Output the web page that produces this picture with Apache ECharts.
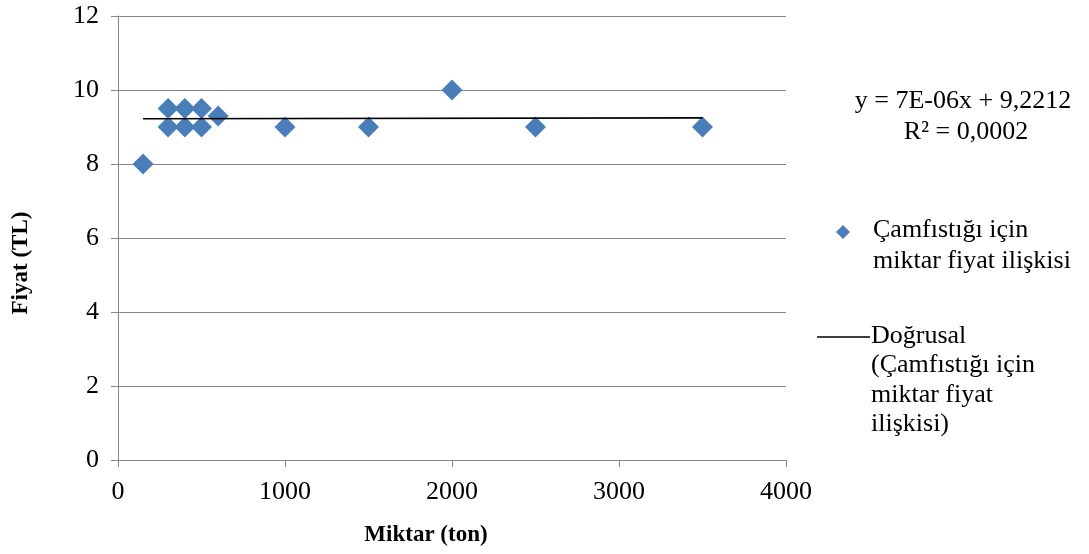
<!DOCTYPE html>
<html>
<head>
<meta charset="utf-8">
<script src="https://cdn.jsdelivr.net/npm/echarts@6/dist/echarts.min.js"></script>
<style>html,body{margin:0;padding:0;background:#fff}#c{width:1089px;height:554px}</style>
</head>
<body>
<div id="c"></div>
<script>
// Data
const miktar = [150, 300, 300, 400, 400, 500, 500, 600, 1000, 1500, 2000, 2500, 3500];
const fiyat  = [8, 9.5, 9, 9.5, 9, 9.5, 9, 9.3, 9, 9, 10, 9, 9];
const trendX = [150, 3500];
const trendY = [9.222, 9.246];
const xTicks = [0, 1000, 2000, 3000, 4000];
const yTicks = [0, 2, 4, 6, 8, 10, 12];
const seriesName = 'Çamfıstığı için\nmiktar fiyat ilişkisi';
const trendName = 'Doğrusal\n(Çamfıstığı için\nmiktar fiyat\nilişkisi)';
const eqLines = ['y = 7E-06x + 9,2212', 'R² = 0,0002'];
const xTitle = 'Miktar (ton)';
const yTitle = 'Fiyat (TL)';

const font = '"Liberation Serif", "Times New Roman", serif';
const gray = '#868686';
const blue = '#4A7EBB';

const chart = echarts.init(document.getElementById('c'));
chart.setOption({
  animation: false,
  backgroundColor: '#fff',
  grid: { left: 118, right: 303, top: 16, bottom: 94, containLabel: false },
  xAxis: {
    type: 'value', min: xTicks[0], max: xTicks[xTicks.length - 1], interval: 1000,
    axisLine: { lineStyle: { color: gray, width: 1 } },
    axisTick: { show: true, length: 7, lineStyle: { color: gray } },
    splitLine: { show: false },
    axisLabel: { color: '#000', fontFamily: font, fontSize: 26, margin: 19, formatter: v => String(v) }
  },
  yAxis: {
    type: 'value', min: yTicks[0], max: yTicks[yTicks.length - 1], interval: 2,
    axisLine: { show: true, lineStyle: { color: gray, width: 1 } },
    axisTick: { show: true, length: 7, lineStyle: { color: gray } },
    splitLine: { show: true, lineStyle: { color: gray, width: 1 } },
    axisLabel: { color: '#000', fontFamily: font, fontSize: 26, margin: 19 }
  },
  series: [
    {
      name: seriesName, type: 'scatter', symbol: 'diamond', symbolSize: 21,
      itemStyle: { color: blue, opacity: 1 },
      data: miktar.map((x, i) => [x, fiyat[i]]), z: 2
    },
    {
      name: trendName, type: 'line', symbol: 'none',
      lineStyle: { color: '#000', width: 1.6 },
      data: trendX.map((x, i) => [x, trendY[i]]), z: 3
    }
  ],
  graphic: [
    { type: 'text', rotation: Math.PI / 2, x: 21, y: 263,
      style: { text: yTitle, font: 'bold 23px ' + font, fill: '#000', align: 'center', verticalAlign: 'middle' } },
    { type: 'text', x: 426, y: 535,
      style: { text: xTitle, font: 'bold 23px ' + font, fill: '#000', align: 'center', verticalAlign: 'middle' } },
    { type: 'text', x: 963, y: 101,
      style: { text: eqLines[0], font: '26px ' + font, fill: '#000', align: 'center', verticalAlign: 'middle' } },
    { type: 'text', x: 966, y: 132,
      style: { text: eqLines[1], font: '26px ' + font, fill: '#000', align: 'center', verticalAlign: 'middle' } },
    { type: 'polygon', shape: { points: [[843, 225], [850, 232], [843, 239], [836, 232]] }, style: { fill: blue } },
    { type: 'text', x: 873, y: 215,
      style: { text: seriesName, font: '26px ' + font, fill: '#000', lineHeight: 30.5, align: 'left', verticalAlign: 'top' } },
    { type: 'line', shape: { x1: 817, y1: 337, x2: 870, y2: 337 }, style: { stroke: '#000', lineWidth: 1.6 } },
    { type: 'text', x: 871, y: 321,
      style: { text: trendName, font: '26px ' + font, fill: '#000', lineHeight: 29.5, align: 'left', verticalAlign: 'top' } }
  ]
});
</script>
</body>
</html>
